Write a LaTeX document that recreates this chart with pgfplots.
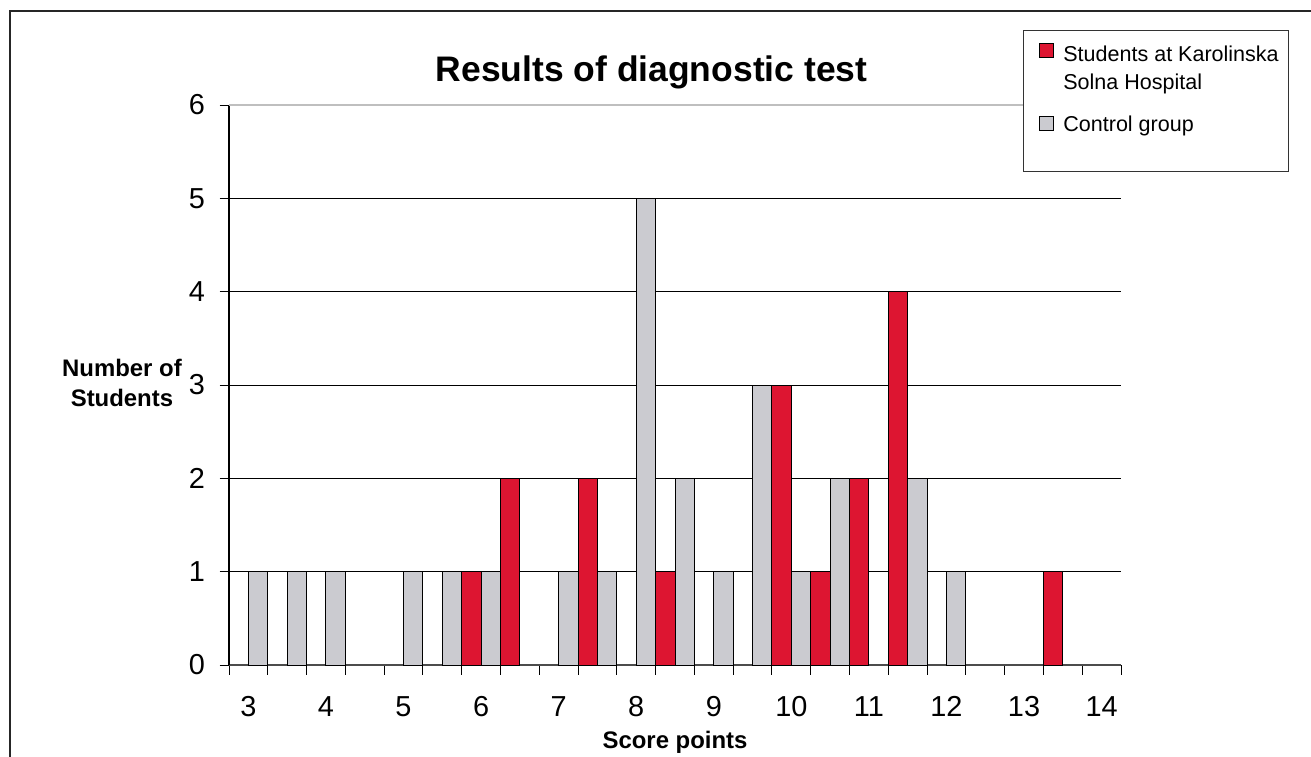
\documentclass[border=0pt]{standalone}
\usepackage{pgfplots}
\usepackage{pgfplotstable}
\pgfplotsset{compat=1.18}
\usepackage{fontspec}
\setmainfont{Liberation Sans}
\definecolor{kred}{RGB}{221,21,49}
\definecolor{kgray}{RGB}{203,203,208}
\pgfplotsset{
  redimg/.style={legend image code/.code={\path (0bp,8.4bp); \draw[##1, draw=black, line width=1bp] (6bp,8.4bp) rectangle (20bp,22.4bp);}},
  grayimg/.style={legend image code/.code={\path (0bp,-5.6bp); \draw[##1, draw=black, line width=1bp] (6bp,-5.6bp) rectangle (20bp,8.4bp);}},
}
\pgfplotstableread{
score count
6 1
6.5 2
7.5 2
8.5 1
10 3
10.5 1
11 2
11.5 4
13.5 1
}\students
\pgfplotstableread{
score count
3 1
3.5 1
4 1
5 1
5.5 1
6 1
7 1
7.5 1
8 5
8.5 2
9 1
9.5 3
10 1
10.5 2
11.5 2
12 1
}\control
\begin{document}
\begin{tikzpicture}
\path[use as bounding box] (0,0) rectangle (1311bp,-757bp);
\draw[line width=1.5bp, black!85] (10bp,-757bp) -- (10bp,-11bp) -- (1311bp,-11bp);
\begin{axis}[
 scale only axis, width=892bp, height=560bp,
 anchor=south west, at={(229bp,-665bp)},
 xmin=2.75, xmax=14.25, ymin=0, ymax=6,
 axis x line*=bottom, axis y line*=left,
 axis line style={-, line width=1.2bp},
 x axis line style={black!70},
 tick align=outside, major tick length=9.5bp,
 every tick/.style={black, line width=1bp},
 xtick={2.75,3.25,...,14.25}, xticklabels={},
 extra x ticks={3,4,...,14},
 extra x tick style={major tick length=0pt, grid=none},
 xticklabel style={yshift=-28bp},
 yticklabel style={xshift=-11bp},
 ytick={0,1,...,5},
 extra y ticks={6},
 extra y tick style={grid style={black!25, line width=1.3bp}},
 ymajorgrids,
 grid style={black, line width=1bp},
 /pgf/number format/assume math mode=true,
 ticklabel style={font=\fontsize{29}{29}\selectfont},
 title={Results of diagnostic test},
 title style={font=\fontsize{35.6}{35.6}\selectfont\bfseries, at={(axis description cs:0.4737,1.032)}, anchor=base},
 xlabel={Score points},
 xlabel style={font=\fontsize{24}{24}\selectfont\bfseries, at={(axis description cs:0.5,-0.1375)}, anchor=center},
 ylabel={Number of\\Students},
 ylabel style={font=\fontsize{24}{30}\selectfont\bfseries, rotate=-90, align=center, at={(axis description cs:-0.12,0.5036)}, anchor=center},
 legend cell align=left,
 legend style={at={(axis description cs:0.890,1.134)}, anchor=north west,
   draw=black!80, line width=1bp,
   nodes={inner sep=0pt, font=\fontsize{21.6}{28}\selectfont},
   inner xsep=10bp, inner ysep=11.4bp, column sep=9bp, row sep=24.9bp},
]
\addplot[ybar, bar width=0.25, bar shift=-0.125, fill=kred, draw=black, line width=1bp, redimg]
  table[x=score, y=count] {\students};
\addlegendentry{\begin{tabular}[b]{@{}l@{}}Students at Karolinska\\Solna Hospital\end{tabular}}
\addplot[ybar, bar width=0.25, bar shift=0.125, fill=kgray, draw=black, line width=1bp, grayimg]
  table[x=score, y=count] {\control};
\addlegendentry{Control group}
\addlegendimage{empty legend}
\addlegendentry{\rule{0pt}{0.5bp}}
\end{axis}
\end{tikzpicture}
\end{document}
